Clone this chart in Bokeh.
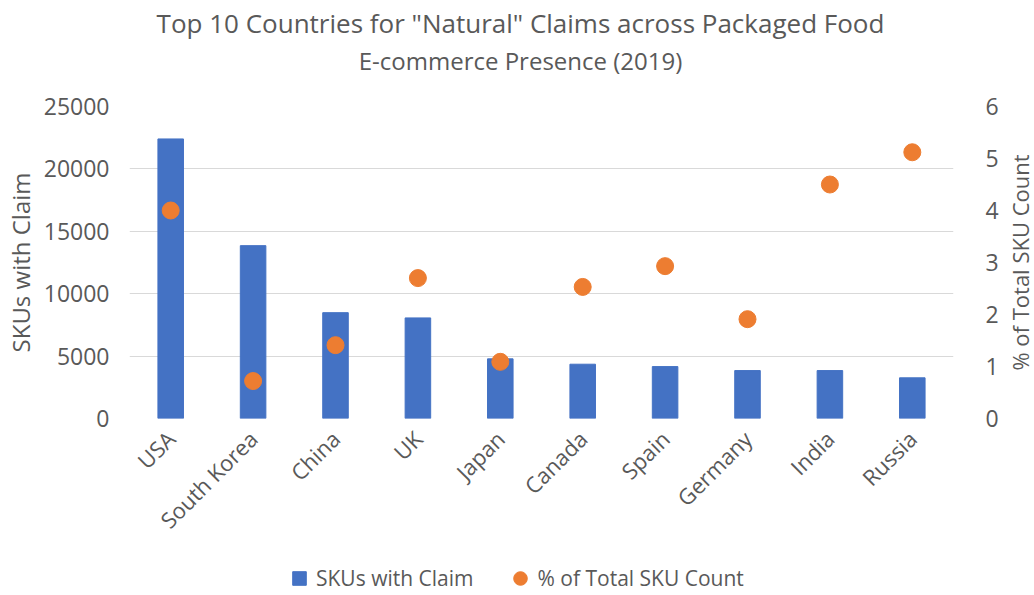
from bokeh.plotting import figure
from bokeh.models import (Range1d, LinearAxis, Legend, LegendItem, Label, FactorRange,
                          ColumnDataSource, FixedTicker)
from bokeh.layouts import column, row
from bokeh.embed import file_html
from bokeh.resources import INLINE
from math import pi

countries = ["USA", "South Korea", "China", "UK", "Japan", "Canada", "Spain", "Germany", "India", "Russia"]
skus_with_claim = [22400, 13850, 8480, 8060, 4780, 4350, 4160, 3840, 3840, 3260]
pct_total_sku = [4.00, 0.72, 1.41, 2.70, 1.09, 2.53, 2.93, 1.91, 4.50, 5.12]
left_ticks = [0, 5000, 10000, 15000, 20000, 25000]
right_ticks = [0, 1, 2, 3, 4, 5, 6]

title_text = 'Top 10 Countries for "Natural" Claims across Packaged Food'
subtitle_text = "E-commerce Presence (2019)"
left_title = "SKUs with Claim"
right_title = "% of Total SKU Count"
series_names = ["SKUs with Claim", "% of Total SKU Count"]

GREY = "#595959"
FONT = "Open Sans"
BLUE = "#4472C4"
ORANGE = "#ED7D31"

TOTAL_W, TOTAL_H = 1034, 595
TOP_H = 86          # title strip
LEG_H = 40          # legend strip
MAIN_W = 1000
RIGHT_W = TOTAL_W - MAIN_W
FW, FH = 824, 312
MAIN_TOP = 20
MAIN_H = TOTAL_H - TOP_H - LEG_H
MAIN_BOTTOM = MAIN_H - MAIN_TOP - FH


def blank_fig(w, h):
    f = figure(width=w, height=h, x_range=Range1d(0, 1), y_range=Range1d(0, 1),
               output_backend="svg", toolbar_location=None,
               min_border_left=0, min_border_right=0, min_border_top=0, min_border_bottom=0,
               x_axis_location=None, y_axis_location=None)
    f.outline_line_color = None
    f.xgrid.visible = False
    f.ygrid.visible = False
    f.background_fill_color = "white"
    f.border_fill_color = "white"
    return f


def style_axis(ax):
    ax.axis_line_color = None
    ax.major_tick_line_color = None
    ax.minor_tick_line_color = None
    ax.major_tick_in = 0
    ax.major_tick_out = 0
    ax.major_label_text_color = GREY
    ax.major_label_text_font = FONT
    ax.axis_label_text_color = GREY
    ax.axis_label_text_font = FONT
    ax.axis_label_text_font_style = "normal"
    ax.axis_label_text_font_size = "24px"


# ---------------- main chart ----------------
src = ColumnDataSource(dict(country=countries, skus=skus_with_claim, pct=pct_total_sku))

p = figure(frame_width=FW, frame_height=FH, x_range=FactorRange(factors=countries),
           y_range=Range1d(0, 25000), output_backend="svg", toolbar_location=None,
           min_border_left=128, min_border_right=MAIN_W - 128 - FW,
           min_border_top=MAIN_TOP, min_border_bottom=MAIN_BOTTOM)
p.extra_y_ranges = {"pct": Range1d(0, 6)}
p.outline_line_color = None
p.background_fill_color = "white"
p.border_fill_color = "white"

bars = p.vbar(x="country", top="skus", width=0.31, color=BLUE, source=src)
dots = p.scatter(x="country", y="pct", size=17, color=ORANGE, y_range_name="pct", source=src)

ya = p.yaxis[0]
ya.ticker = FixedTicker(ticks=left_ticks)
ya.axis_label = left_title

ra = LinearAxis(y_range_name="pct", ticker=FixedTicker(ticks=right_ticks))
p.add_layout(ra, "right")

xa = p.xaxis[0]
for ax in [ya, ra, xa]:
    style_axis(ax)

ya.major_label_text_font_size = "23px"
ra.major_label_text_font_size = "23px"
ya.major_label_standoff = 20
ra.major_label_standoff = 32
ya.axis_label_standoff = 4

xa.major_label_orientation = pi / 4
xa.major_label_text_font_size = "22px"
xa.major_label_standoff = 16

p.xgrid.grid_line_color = None
p.ygrid.grid_line_color = "#D9D9D9"
p.ygrid.grid_line_width = 1
p.ygrid.ticker = FixedTicker(ticks=left_ticks)

# ---------------- title strip ----------------
top = blank_fig(TOTAL_W, TOP_H)
top.add_layout(Label(x=520, y=TOP_H - 22, x_units="screen", y_units="screen",
                     text=title_text, text_align="center", text_baseline="middle",
                     text_font=FONT, text_font_size="26px", text_color=GREY))
top.add_layout(Label(x=520, y=TOP_H - 60, x_units="screen", y_units="screen",
                     text=subtitle_text, text_align="center", text_baseline="middle",
                     text_font=FONT, text_font_size="24px", text_color=GREY))

# ---------------- right axis title strip: an axis that only carries its label ----------
right = figure(frame_width=4, frame_height=FH, x_range=Range1d(0, 1), y_range=Range1d(0, 6),
               output_backend="svg", toolbar_location=None,
               min_border_left=RIGHT_W - 4, min_border_right=0,
               min_border_top=MAIN_TOP, min_border_bottom=MAIN_BOTTOM,
               x_axis_location=None, y_axis_location="left")
right.outline_line_color = None
right.xgrid.visible = False
right.ygrid.visible = False
right.background_fill_color = "white"
right.border_fill_color = "white"
rya = right.yaxis[0]
style_axis(rya)
rya.ticker = FixedTicker(ticks=[])
rya.major_label_text_font_size = "0px"
rya.major_label_standoff = 0
rya.axis_label = right_title
rya.axis_label_text_font_size = "22px"
rya.axis_label_standoff = 0

# ---------------- legend strip ----------------
# proxy renderers share the chart's data; their points fall outside this strip's range
leg = blank_fig(TOTAL_W, LEG_H)
sq = leg.scatter(x="skus", y="skus", source=src, marker="square", size=12, color=BLUE)
ci = leg.scatter(x="skus", y="skus", source=src, marker="circle", size=12, color=ORANGE)
legend = Legend(items=[LegendItem(label=series_names[0], renderers=[sq]),
                       LegendItem(label=series_names[1], renderers=[ci])],
                orientation="horizontal", location=(282, 0), border_line_color=None,
                background_fill_alpha=0,
                label_text_font=FONT, label_text_font_size="21px", label_text_color=GREY,
                glyph_width=34, glyph_height=34, spacing=30, label_standoff=0,
                margin=0, padding=0)
leg.add_layout(legend, "center")

layout = column(top, row(p, right, spacing=0), leg, spacing=0)

open("out.html", "w").write(file_html(layout, INLINE))
